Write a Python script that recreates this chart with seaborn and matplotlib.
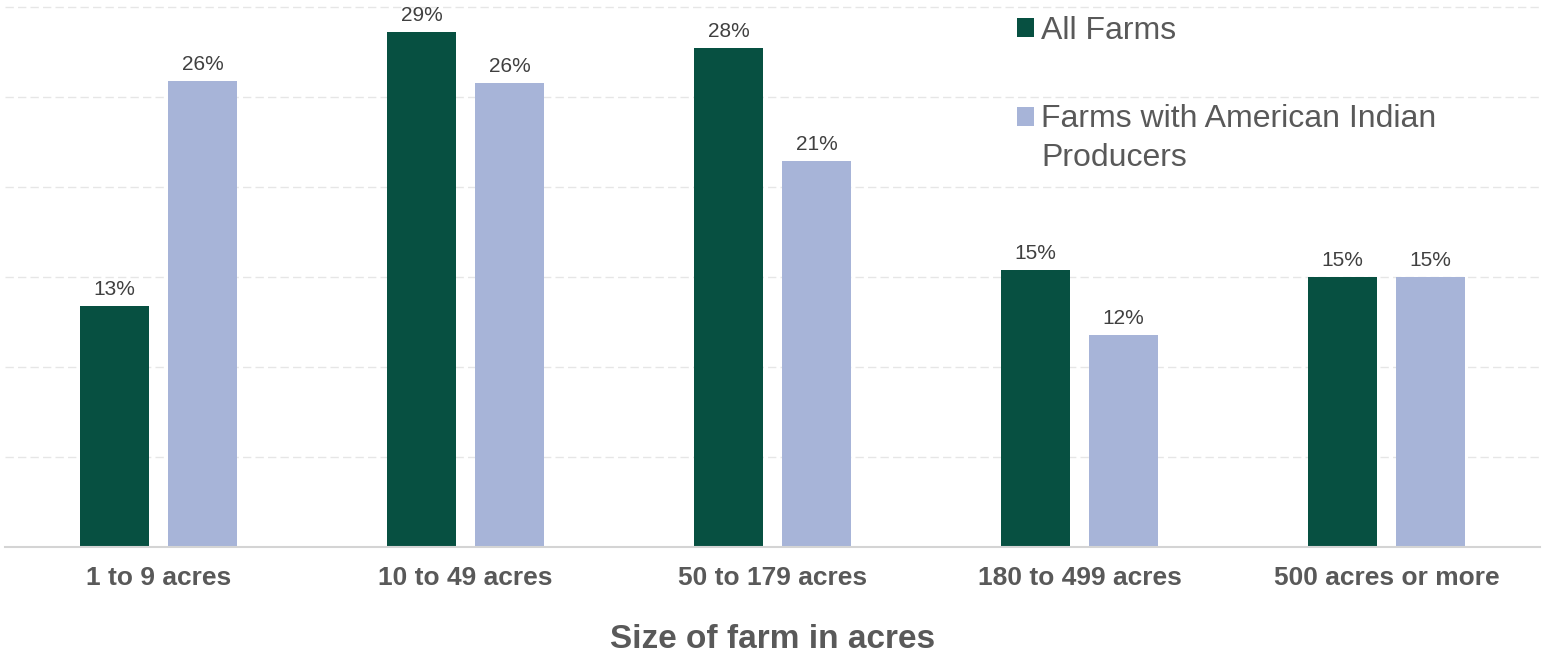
import numpy as np
import pandas as pd
import seaborn as sns
import matplotlib
matplotlib.use("Agg")
import matplotlib.pyplot as plt
from matplotlib.patches import Rectangle
from matplotlib.legend_handler import HandlerPatch

# ---- data ----
categories = ["1 to 9 acres", "10 to 49 acres", "50 to 179 acres", "180 to 499 acres", "500 acres or more"]
series_names = ["All Farms", "Farms with American Indian\nProducers"]
all_farms = [13.4, 28.6, 27.7, 15.4, 15.0]
ai_farms = [25.9, 25.8, 21.45, 11.8, 15.0]
yticks = [0, 5, 10, 15, 20, 25, 30]
x_title = "Size of farm in acres"

colors = ["#075041", "#A7B4D8"]

df = pd.DataFrame({
    "size": categories * 2,
    "pct": all_farms + ai_farms,
    "group": [series_names[0]] * len(categories) + [series_names[1]] * len(categories),
})

sns.set_theme(style="white")
plt.rcParams["font.family"] = ["Liberation Sans", "DejaVu Sans"]

fig = plt.figure(figsize=(15.42, 6.57), dpi=100)
ax = fig.add_axes([5 / 1542, 110 / 657, 1535 / 1542, 547 / 657])

sns.barplot(data=df, x="size", y="pct", hue="group", order=categories,
            hue_order=series_names, palette=colors, saturation=1,
            width=0.572, gap=0.21, errorbar=None, linewidth=0, ax=ax, legend=False)

ax.set_xlim(-0.5, len(categories) - 0.5)
ax.set_ylim(0, 30.39)
ax.set_yticks(yticks)
ax.set_yticklabels([])
ax.tick_params(axis="both", length=0)
ax.tick_params(axis="x", pad=14, labelsize=19, labelcolor="#595959")
for lbl in ax.get_xticklabels():
    lbl.set_fontweight("bold")
ax.yaxis.grid(True, color="#e6e6e6", linewidth=1, linestyle=(0, (6, 3)))
ax.xaxis.grid(False)
ax.set_axisbelow(True)
for s in ["top", "right", "left"]:
    ax.spines[s].set_visible(False)
ax.spines["bottom"].set_color("#d4d4d4")
ax.spines["bottom"].set_linewidth(1.5)
ax.set_ylabel("")
ax.set_xlabel(x_title, fontsize=24, fontweight="bold", color="#595959", labelpad=24.5)

for cont, vals in zip(ax.containers, [all_farms, ai_farms]):
    ax.bar_label(cont, labels=[f"{v:.0f}%" for v in vals], padding=5,
                 fontsize=15, color="#404040")

# ---- legend ----
leg_fs = 23
line_sp = 1.40
shift_pts = 16.0


def make_patch(shift):
    def _f(legend, orig_handle, xdescent, ydescent, width, height, fontsize):
        return Rectangle((-xdescent, -ydescent + shift), width, height)
    return _f


handles = [Rectangle((0, 0), 1, 1, facecolor=c, edgecolor="none") for c in colors]
handler_map = {
    handles[0]: HandlerPatch(patch_func=make_patch(0)),
    handles[1]: HandlerPatch(patch_func=make_patch(shift_pts)),
}
leg = ax.legend(handles, series_names, handler_map=handler_map,
                loc="upper left", bbox_to_anchor=(1016.7 / 1542, 1 - 16 / 657),
                bbox_transform=fig.transFigure, frameon=False, fontsize=leg_fs,
                handlelength=0.545, handleheight=0.545, handletextpad=0.22,
                labelspacing=1.82, borderpad=0, borderaxespad=0)
for t in leg.get_texts():
    t.set_color("#595959")
leg.get_texts()[1].set_linespacing(line_sp)

fig.savefig("out.png", dpi=100)
